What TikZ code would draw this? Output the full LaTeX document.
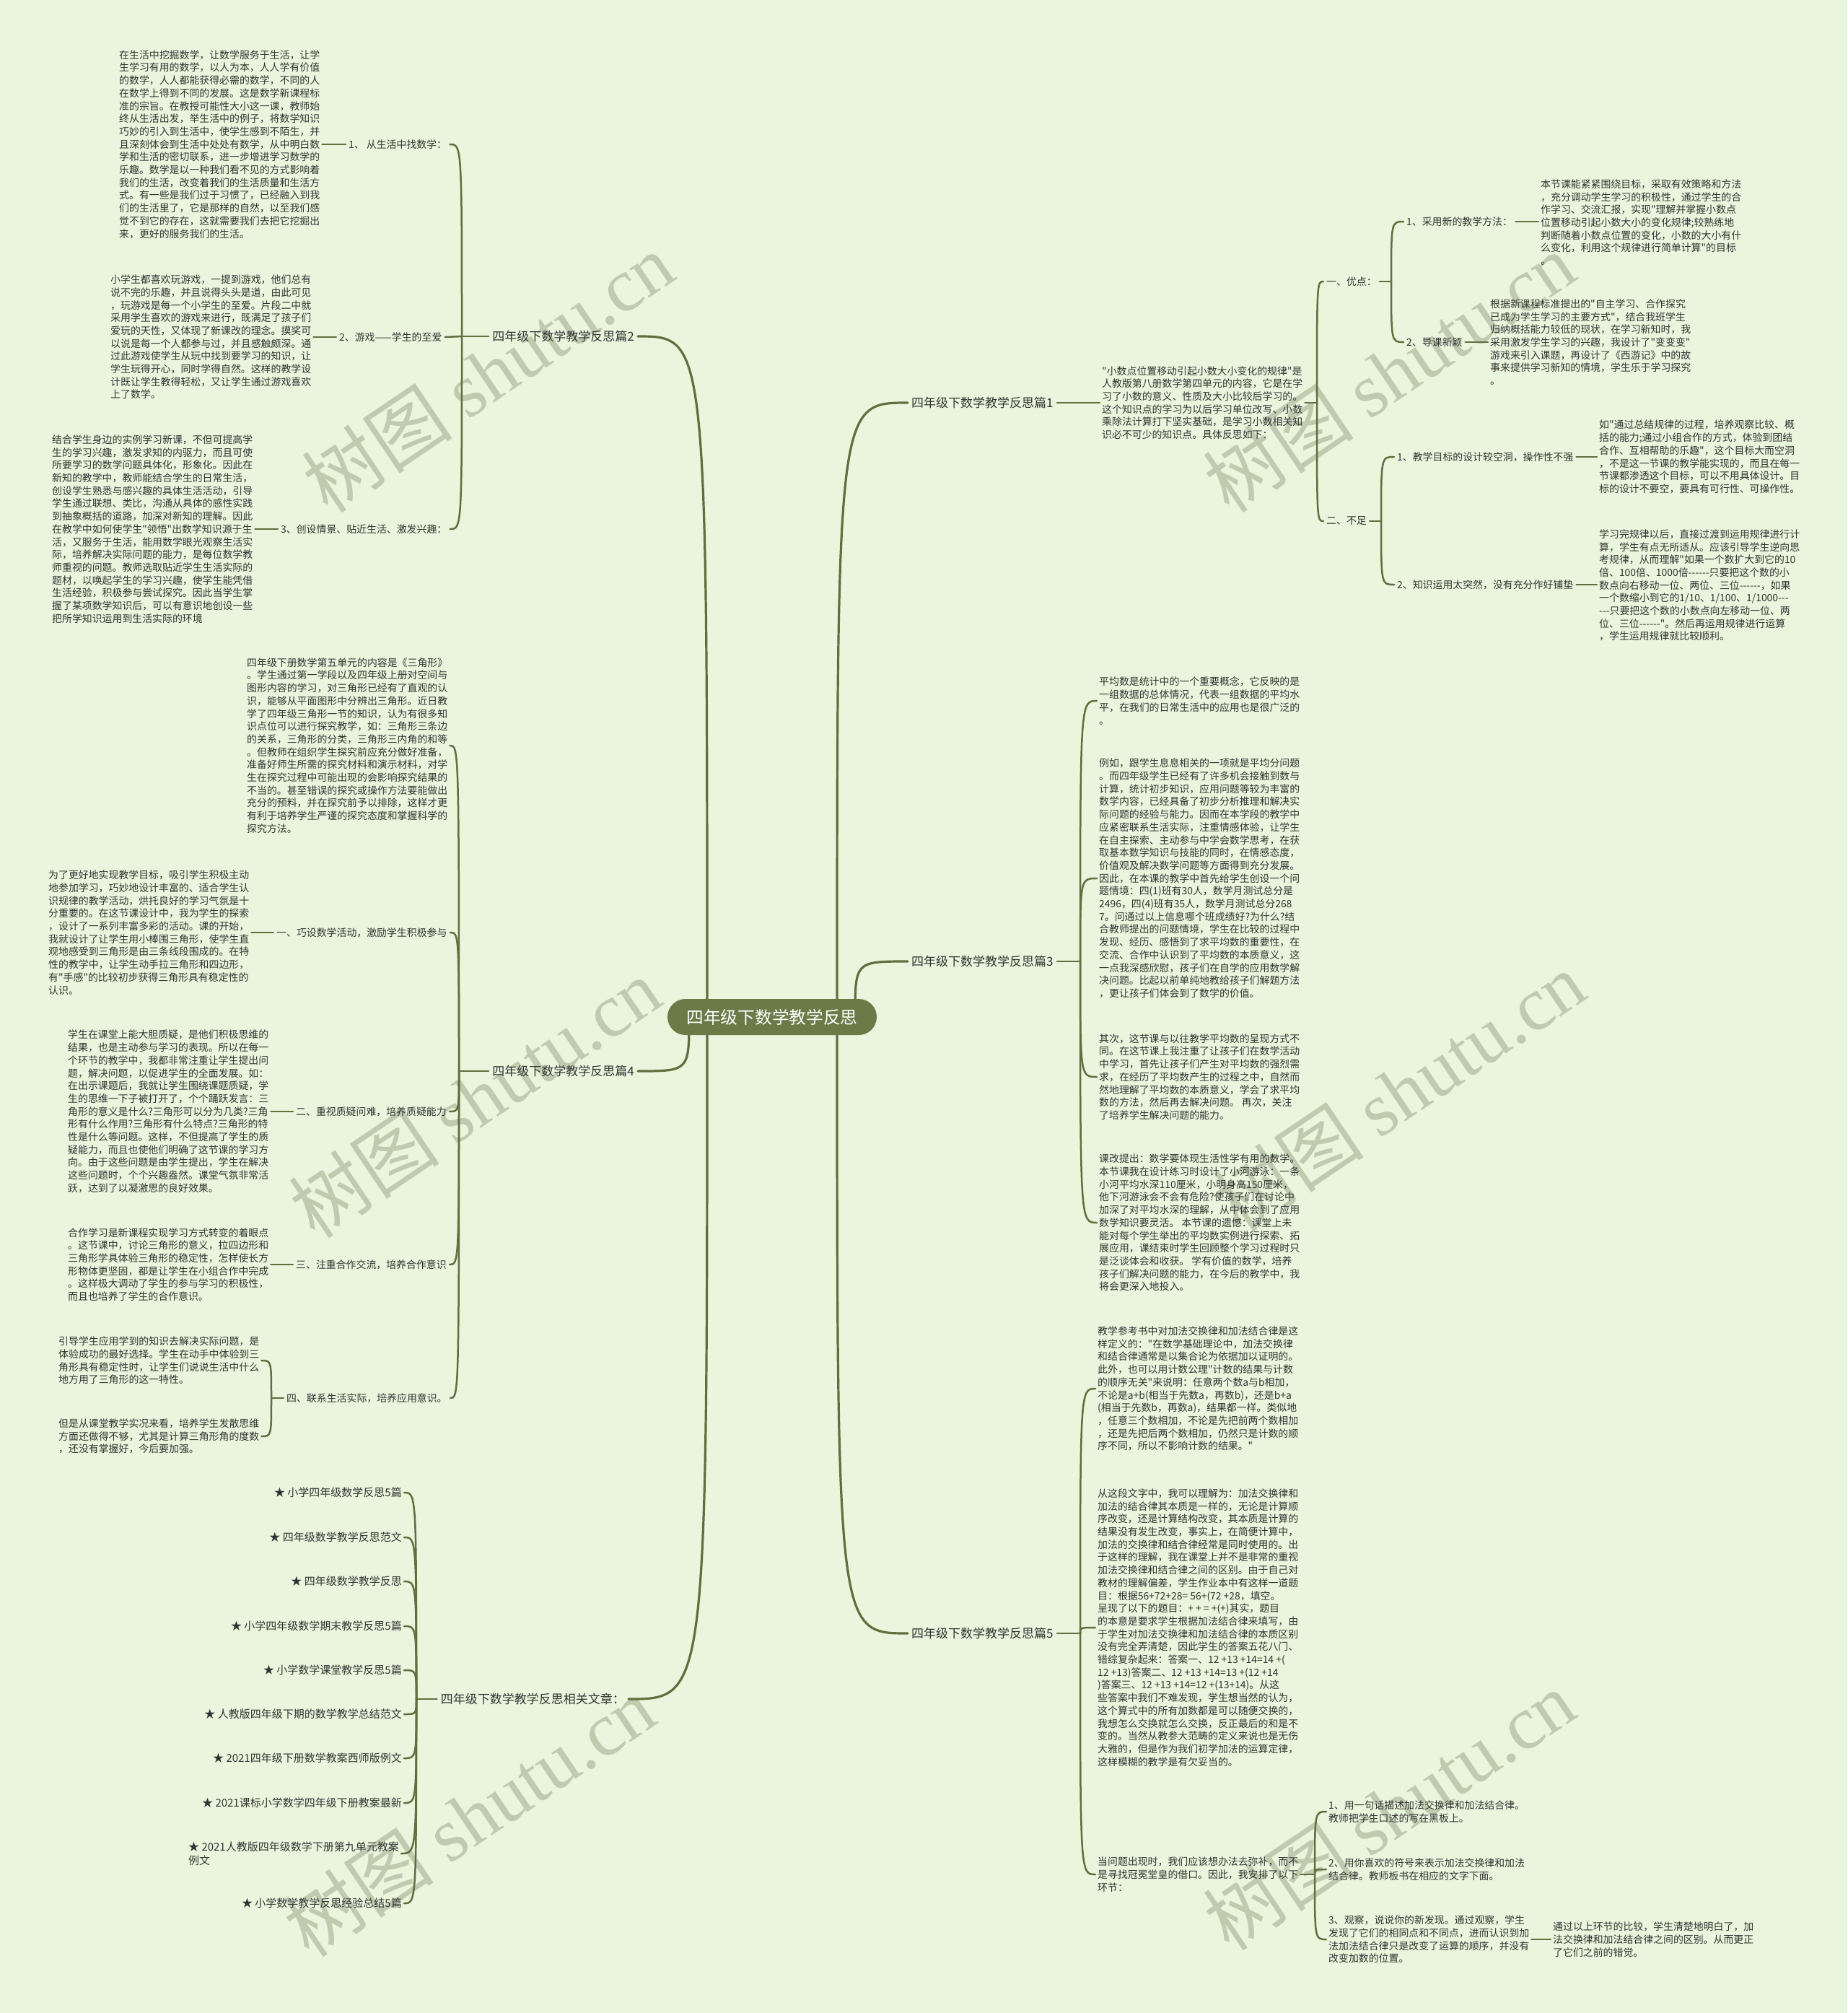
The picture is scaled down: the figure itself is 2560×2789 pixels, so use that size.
\documentclass[tikz,border=0pt]{standalone}
\usepackage{fontspec}
\newfontfamily\cjk{Noto Sans CJK SC}
\newfontfamily\wmlatin{Liberation Serif}
\usetikzlibrary{calc}
\definecolor{bgc}{HTML}{E9F5DC}
\definecolor{lnc}{HTML}{5F6F3E}
\definecolor{txc}{HTML}{333333}
\definecolor{cnc}{HTML}{6A7B48}
\definecolor{wmc}{HTML}{BFCAAF}
\tikzset{
  body/.style={font=\cjk\fontsize{13.9}{17.7}\selectfont, text=txc, align=left, anchor=west, inner sep=3pt},
  lab/.style={font=\cjk\fontsize{13.9}{17.7}\selectfont, text=txc, anchor=west, inner sep=4pt},
  mainlab/.style={font=\cjk\fontsize{17}{20}\selectfont, text=txc, inner sep=5pt},
  itemlab/.style={font=\cjk\fontsize{15}{18.5}\selectfont, text=txc, anchor=east, align=left, inner sep=3pt},
  conn/.style={draw=lnc, line width=2.5pt, line cap=round},
  mainconn/.style={draw=lnc, line width=3.2pt, line cap=round},
  wmark/.style={font=\cjk\fontsize{105}{105}\selectfont, text=wmc, rotate=34, inner sep=0pt},
}
\begin{document}
\begin{tikzpicture}[x=1pt,y=-1pt]
\fill[bgc] (0,0) rectangle (2560,2789);
\useasboundingbox (0,0) rectangle (2560,2789);

% watermarks
\node[wmark] (wm1) at (676,516) {树图 {\wmlatin shutu.cn}};
\node[wmark] (wm2) at (1925,516) {树图 {\wmlatin shutu.cn}};
\node[wmark] (wm3) at (658,1521) {树图 {\wmlatin shutu.cn}};
\node[wmark] (wm4) at (1939,1512) {树图 {\wmlatin shutu.cn}};
\node[wmark] (wm5) at (650,2517) {树图 {\wmlatin shutu.cn}};
\node[wmark] (wm6) at (1925,2508) {树图 {\wmlatin shutu.cn}};

% main labels
\node[mainlab, anchor=east] (P2) at (884,466) {四年级下数学教学反思篇2};
\node[mainlab, anchor=east] (P4) at (884,1484) {四年级下数学教学反思篇4};
\node[mainlab, anchor=east] (PR) at (871,2354) {四年级下数学教学反思相关文章：};
\node[mainlab, anchor=west] (P1) at (1258,558) {四年级下数学教学反思篇1};
\node[mainlab, anchor=west] (P3) at (1258,1332) {四年级下数学教学反思篇3};
\node[mainlab, anchor=west] (P5) at (1258,2263) {四年级下数学教学反思篇5};

% main connectors
\draw[mainconn] (1160,1409) .. controls (1160,558) .. (P1.west);
\draw[mainconn] (1185,1409) .. controls (1185,1332) .. (P3.west);
\draw[mainconn] (1160,1409) .. controls (1160,2263) .. (P5.west);
\draw[mainconn] (980,1409) .. controls (980,466) .. (P2.east);
\draw[mainconn] (955,1409) .. controls (955,1484) .. (P4.east);
\draw[mainconn] (980,1409) .. controls (980,2354) .. (PR.east);

% center
\node[fill=cnc, text=white, rounded corners=25pt, minimum width=290pt, minimum height=50pt,
      font=\cjk\fontsize{23.7}{26}\selectfont] (C) at (1070,1409) {四年级下数学教学反思};

% ===== Pian 2 =====
\node[body] (B1) at (162,200) {在生活中挖掘数学，让数学服务于生活，让学\\生学习有用的数学，以人为本，人人学有价值\\的数学，人人都能获得必需的数学，不同的人\\在数学上得到不同的发展。这是数学新课程标\\准的宗旨。在教授可能性大小这一课，教师始\\终从生活出发，举生活中的例子，将数学知识\\巧妙的引入到生活中，使学生感到不陌生，并\\且深刻体会到生活中处处有数学，从中明白数\\学和生活的密切联系，进一步增进学习数学的\\乐趣。数学是以一种我们看不见的方式影响着\\我们的生活，改变着我们的生活质量和生活方\\式。有一些是我们过于习惯了，已经融入到我\\们的生活里了，它是那样的自然，以至我们感\\觉不到它的存在，这就需要我们去把它挖掘出\\来，更好的服务我们的生活。};
\node[lab] (L1) at (479,200) {1、 从生活中找数学：};
\node[body] (B2) at (150,467) {小学生都喜欢玩游戏，一提到游戏，他们总有\\说不完的乐趣，并且说得头头是道，由此可见\\，玩游戏是每一个小学生的至爱。片段二中就\\采用学生喜欢的游戏来进行，既满足了孩子们\\爱玩的天性，又体现了新课改的理念。摸奖可\\以说是每一个人都参与过，并且感触颇深。通\\过此游戏使学生从玩中找到要学习的知识，让\\学生玩得开心，同时学得自然。这样的教学设\\计既让学生教得轻松，又让学生通过游戏喜欢\\上了数学。};
\node[lab] (L2) at (466,467) {2、游戏——学生的至爱};
\node[body] (B3) at (69,733) {结合学生身边的实例学习新课，不但可提高学\\生的学习兴趣，激发求知的内驱力，而且可使\\所要学习的数学问题具体化，形象化。因此在\\新知的教学中，教师能结合学生的日常生活，\\创设学生熟悉与感兴趣的具体生活活动，引导\\学生通过联想、类比，沟通从具体的感性实践\\到抽象概括的道路，加深对新知的理解。因此\\在教学中如何使学生"领悟"出数学知识源于生\\活，又服务于生活，能用数学眼光观察生活实\\际，培养解决实际问题的能力，是每位数学教\\师重视的问题。教师选取贴近学生生活实际的\\题材，以唤起学生的学习兴趣，使学生能凭借\\生活经验，积极参与尝试探究。因此当学生掌\\握了某项数学知识后，可以有意识地创设一些\\把所学知识运用到生活实际的环境};
\node[lab] (L3) at (385,733) {3、创设情景、贴近生活、激发兴趣：};
\coordinate (J2) at (640,466);
\draw[conn] (B1.east) -- (L1.west);
\draw[conn] (B2.east) -- (L2.west);
\draw[conn] (B3.east) -- (L3.west);
\draw[conn] (P2.west) -- (J2);
\draw[conn] (J2) .. controls (J2 |- L1.east) .. (L1.east);
\draw[conn] (J2) -- (L2.east);
\draw[conn] (J2) .. controls (J2 |- L3.east) .. (L3.east);

% ===== Pian 4 =====
\node[body] (B4) at (339,1033) {四年级下册数学第五单元的内容是《三角形》\\。学生通过第一学段以及四年级上册对空间与\\图形内容的学习，对三角形已经有了直观的认\\识，能够从平面图形中分辨出三角形。近日教\\学了四年级三角形一节的知识，认为有很多知\\识点位可以进行探究教学，如：三角形三条边\\的关系，三角形的分类，三角形三内角的和等\\。但教师在组织学生探究前应充分做好准备，\\准备好师生所需的探究材料和演示材料，对学\\生在探究过程中可能出现的会影响探究结果的\\不当的。甚至错误的探究或操作方法要能做出\\充分的预料，并在探究前予以排除，这样才更\\有利于培养学生严谨的探究态度和掌握科学的\\探究方法。};
\node[body] (B5) at (64,1292) {为了更好地实现教学目标，吸引学生积极主动\\地参加学习，巧妙地设计丰富的、适合学生认\\识规律的教学活动，烘托良好的学习气氛是十\\分重要的。在这节课设计中，我为学生的探索\\，设计了一系列丰富多彩的活动。课的开始，\\我就设计了让学生用小棒围三角形，使学生直\\观地感受到三角形是由三条线段围成的。在特\\性的教学中，让学生动手拉三角形和四边形，\\有"手感"的比较初步获得三角形具有稳定性的\\认识。};
\node[lab] (L5) at (379,1292) {一、巧设数学活动，激励学生积极参与};
\node[body] (B6) at (91,1540) {学生在课堂上能大胆质疑，是他们积极思维的\\结果，也是主动参与学习的表现。所以在每一\\个环节的教学中，我都非常注重让学生提出问\\题，解决问题，以促进学生的全面发展。如：\\在出示课题后，我就让学生围绕课题质疑，学\\生的思维一下子被打开了，个个踊跃发言：三\\角形的意义是什么?三角形可以分为几类?三角\\形有什么作用?三角形有什么特点?三角形的特\\性是什么等问题。这样，不但提高了学生的质\\疑能力，而且也使他们明确了这节课的学习方\\向。由于这些问题是由学生提出，学生在解决\\这些问题时，个个兴趣盎然。课堂气氛非常活\\跃，达到了以凝激思的良好效果。};
\node[lab] (L6) at (406,1540) {二、重视质疑问难，培养质疑能力};
\node[body] (B7) at (91,1752) {合作学习是新课程实现学习方式转变的着眼点\\。这节课中，讨论三角形的意义，拉四边形和\\三角形学具体验三角形的稳定性，怎样使长方\\形物体更坚固，都是让学生在小组合作中完成\\。这样极大调动了学生的参与学习的积极性，\\而且也培养了学生的合作意识。};
\node[lab] (L7) at (406,1752) {三、注重合作交流，培养合作意识};
\node[body] (B7a) at (78,1885) {引导学生应用学到的知识去解决实际问题，是\\体验成功的最好选择。学生在动手中体验到三\\角形具有稳定性时，让学生们说说生活中什么\\地方用了三角形的这一特性。};
\node[body] (B7b) at (78,1990) {但是从课堂教学实况来看，培养学生发散思维\\方面还做得不够，尤其是计算三角形角的度数\\，还没有掌握好，今后要加强。};
\node[lab] (L8) at (393,1937) {四、联系生活实际，培养应用意识。};
\coordinate (J8) at (376,1937);
\coordinate (J4) at (636,1484);
\draw[conn] (B5.east) -- (L5.west);
\draw[conn] (B6.east) -- (L6.west);
\draw[conn] (B7.east) -- (L7.west);
\draw[conn] (J8) -- (L8.west);
\draw[conn] (J8) .. controls (J8 |- B7a.east) .. (B7a.east);
\draw[conn] (J8) .. controls (J8 |- B7b.east) .. (B7b.east);
\draw[conn] (P4.west) -- (J4);
\draw[conn] (J4) .. controls (J4 |- B4.east) .. (B4.east);
\draw[conn] (J4) .. controls (J4 |- L5.east) .. (L5.east);
\draw[conn] (J4) .. controls (J4 |- L6.east) .. (L6.east);
\draw[conn] (J4) .. controls (J4 |- L7.east) .. (L7.east);
\draw[conn] (J4) .. controls (J4 |- L8.east) .. (L8.east);

% ===== related =====
\node[itemlab] (R1) at (560,2068) {★ 小学四年级数学反思5篇};
\node[itemlab] (R2) at (560,2130) {★ 四年级数学教学反思范文};
\node[itemlab] (R3) at (560,2191) {★ 四年级数学教学反思};
\node[itemlab] (R4) at (560,2253) {★ 小学四年级数学期末教学反思5篇};
\node[itemlab] (R5) at (560,2314) {★ 小学数学课堂教学反思5篇};
\node[itemlab] (R6) at (560,2375) {★ 人教版四年级下期的数学教学总结范文};
\node[itemlab] (R7) at (560,2436) {★ 2021四年级下册数学教案西师版例文};
\node[itemlab] (R8) at (560,2498) {★ 2021课标小学数学四年级下册教案最新};
\node[itemlab] (R9) at (556,2568) {★ 2021人教版四年级数学下册第九单元教案\\例文};
\node[itemlab] (R10) at (560,2637) {★ 小学数学教学反思经验总结5篇};
\coordinate (JR) at (577,2354);
\draw[conn] (PR.west) -- (JR);
\foreach \r in {R1,R2,R3,R4,R5,R6,R7,R8,R9,R10} {
  \draw[conn] (JR) .. controls (JR |- \r.east) .. (\r.east);
}

% ===== Pian 1 =====
\node[body] (B11) at (1524,558) {"小数点位置移动引起小数大小变化的规律"是\\人教版第八册数学第四单元的内容，它是在学\\习了小数的意义、性质及大小比较后学习的。\\这个知识点的学习为以后学习单位改写、小数\\乘除法计算打下坚实基础，是学习小数相关知\\识必不可少的知识点。具体反思如下：};
\draw[conn] (P1.east) -- (B11.west);
\coordinate (J1) at (1825,558);
\draw[conn] (B11.east) -- (J1);
\node[lab] (LY) at (1834,390) {一、优点：};
\node[lab] (LB) at (1834,722) {二、不足};
\draw[conn] (J1) .. controls (J1 |- LY.west) .. (LY.west);
\draw[conn] (J1) .. controls (J1 |- LB.west) .. (LB.west);
% youdian
\coordinate (J11) at (1928,390);
\draw[conn] (LY.east) -- (J11);
\node[lab] (L9a) at (1945,307) {1、采用新的教学方法：};
\node[lab] (L9b) at (1945,474) {2、导课新颖};
\draw[conn] (J11) .. controls (J11 |- L9a.west) .. (L9a.west);
\draw[conn] (J11) .. controls (J11 |- L9b.west) .. (L9b.west);
\node[body] (B9a) at (2132,308) {本节课能紧紧围绕目标，采取有效策略和方法\\，充分调动学生学习的积极性，通过学生的合\\作学习、交流汇报，实现"理解并掌握小数点\\位置移动引起小数大小的变化规律;较熟练地\\判断随着小数点位置的变化，小数的大小有什\\么变化，利用这个规律进行简单计算"的目标\\。};
\node[body] (B9b) at (2062,474) {根据新课程标准提出的"自主学习、合作探究\\已成为学生学习的主要方式"，结合我班学生\\归纳概括能力较低的现状，在学习新知时，我\\采用激发学生学习的兴趣，我设计了"变变变"\\游戏来引入课题，再设计了《西游记》中的故\\事来提供学习新知的情境，学生乐于学习探究\\。};
\draw[conn] (L9a.east) -- (B9a.west |- L9a.east);
\draw[conn] (L9b.east) -- (B9b.west |- L9b.east);
% buzu
\coordinate (J12) at (1914,722);
\draw[conn] (LB.east) -- (J12);
\node[lab] (L10a) at (1932,633) {1、教学目标的设计较空洞，操作性不强};
\node[lab] (L10b) at (1932,810) {2、知识运用太突然，没有充分作好铺垫};
\draw[conn] (J12) .. controls (J12 |- L10a.west) .. (L10a.west);
\draw[conn] (J12) .. controls (J12 |- L10b.west) .. (L10b.west);
\node[body] (B10a) at (2213,633) {如"通过总结规律的过程，培养观察比较、概\\括的能力;通过小组合作的方式，体验到团结\\合作、互相帮助的乐趣"，这个目标大而空洞\\，不是这一节课的教学能实现的，而且在每一\\节课都渗透这个目标，可以不用具体设计。目\\标的设计不要空，要具有可行性、可操作性。};
\node[body] (B10b) at (2213,811) {学习完规律以后，直接过渡到运用规律进行计\\算，学生有点无所适从。应该引导学生逆向思\\考规律，从而理解"如果一个数扩大到它的10\\倍、100倍、1000倍------只要把这个数的小\\数点向右移动一位、两位、三位------，如果\\一个数缩小到它的1/10、1/100、1/1000---\\---只要把这个数的小数点向左移动一位、两\\位、三位------"。然后再运用规律进行运算\\，学生运用规律就比较顺利。};
\draw[conn] (L10a.east) -- (B10a.west);
\draw[conn] (L10b.east) -- (B10b.west |- L10b.east);

% ===== Pian 3 =====
\coordinate (J3) at (1497,1332);
\draw[conn] (P3.east) -- (J3);
\node[body] (B3a) at (1520,971) {平均数是统计中的一个重要概念，它反映的是\\一组数据的总体情况，代表一组数据的平均水\\平，在我们的日常生活中的应用也是很广泛的\\。};
\node[body] (B3b) at (1520,1217) {例如，跟学生息息相关的一项就是平均分问题\\。而四年级学生已经有了许多机会接触到数与\\计算，统计初步知识，应用问题等较为丰富的\\数学内容，已经具备了初步分析推理和解决实\\际问题的经验与能力。因而在本学段的教学中\\应紧密联系生活实际，注重情感体验，让学生\\在自主探索、主动参与中学会数学思考，在获\\取基本数学知识与技能的同时，在情感态度，\\价值观及解决数学问题等方面得到充分发展。\\因此，在本课的教学中首先给学生创设一个问\\题情境：四(1)班有30人，数学月测试总分是\\2496，四(4)班有35人，数学月测试总分268\\7。问通过以上信息哪个班成绩好?为什么?结\\合教师提出的问题情境，学生在比较的过程中\\发现、经历、感悟到了求平均数的重要性，在\\交流、合作中认识到了平均数的本质意义，这\\一点我深感欣慰，孩子们在自学的应用数学解\\决问题。比起以前单纯地教给孩子们解题方法\\，更让孩子们体会到了数学的价值。};
\node[body] (B3c) at (1520,1492) {其次，这节课与以往教学平均数的呈现方式不\\同。在这节课上我注重了让孩子们在数学活动\\中学习，首先让孩子们产生对平均数的强烈需\\求，在经历了平均数产生的过程之中，自然而\\然地理解了平均数的本质意义，学会了求平均\\数的方法，然后再去解决问题。 再次，关注\\了培养学生解决问题的能力。};
\node[body] (B3d) at (1520,1694) {课改提出：数学要体现生活性学有用的数学。\\本节课我在设计练习时设计了小河游泳：一条\\小河平均水深110厘米，小明身高150厘米，\\他下河游泳会不会有危险?使孩子们在讨论中\\加深了对平均水深的理解，从中体会到了应用\\数学知识要灵活。 本节课的遗憾：课堂上未\\能对每个学生举出的平均数实例进行探索、拓\\展应用，课结束时学生回顾整个学习过程时只\\是泛谈体会和收获。 学有价值的数学，培养\\孩子们解决问题的能力，在今后的教学中，我\\将会更深入地投入。};
\foreach \b in {B3a,B3b,B3c,B3d} {
  \draw[conn] (J3) .. controls (J3 |- \b.west) .. (\b.west);
}

% ===== Pian 5 =====
\coordinate (J5) at (1497,2263);
\draw[conn] (P5.east) -- (J5);
\node[body] (B5a) at (1518,1924) {教学参考书中对加法交换律和加法结合律是这\\样定义的："在数学基础理论中，加法交换律\\和结合律通常是以集合论为依据加以证明的。\\此外，也可以用计数公理"计数的结果与计数\\的顺序无关"来说明：任意两个数a与b相加，\\不论是a+b(相当于先数a，再数b)，还是b+a\\(相当于先数b，再数a)，结果都一样。类似地\\，任意三个数相加，不论是先把前两个数相加\\，还是先把后两个数相加，仍然只是计数的顺\\序不同，所以不影响计数的结果。"};
\node[body] (B5b) at (1518,2255) {从这段文字中，我可以理解为：加法交换律和\\加法的结合律其本质是一样的，无论是计算顺\\序改变，还是计算结构改变，其本质是计算的\\结果没有发生改变，事实上，在简便计算中，\\加法的交换律和结合律经常是同时使用的。出\\于这样的理解，我在课堂上并不是非常的重视\\加法交换律和结合律之间的区别。由于自己对\\教材的理解偏差，学生作业本中有这样一道题\\目：根据56+72+28= 56+(72 +28，填空。\\呈现了以下的题目：+ + = +(+)其实，题目\\的本意是要求学生根据加法结合律来填写，由\\于学生对加法交换律和加法结合律的本质区别\\没有完全弄清楚，因此学生的答案五花八门、\\错综复杂起来：答案一、12 +13 +14=14 +(\\12 +13)答案二、12 +13 +14=13 +(12 +14\\)答案三、12 +13 +14=12 +(13+14)。从这\\些答案中我们不难发现，学生想当然的认为，\\这个算式中的所有加数都是可以随便交换的，\\我想怎么交换就怎么交换，反正最后的和是不\\变的。当然从教参大范畴的定义来说也是无伤\\大雅的，但是作为我们初学加法的运算定律，\\这样模糊的教学是有欠妥当的。};
\node[body] (B5c) at (1518,2597) {当问题出现时，我们应该想办法去弥补，而不\\是寻找冠冕堂皇的借口。因此，我安排了以下\\环节：};
\foreach \b in {B5a,B5b,B5c} {
  \draw[conn] (J5) .. controls (J5 |- \b.west) .. (\b.west);
}
\coordinate (J5c) at (1822,2597);
\draw[conn] (B5c.east) -- (J5c);
\node[body] (B5c1) at (1838,2510) {1、用一句话描述加法交换律和加法结合律。\\教师把学生口述的写在黑板上。};
\node[body] (B5c2) at (1838,2590) {2、用你喜欢的符号来表示加法交换律和加法\\结合律。教师板书在相应的文字下面。};
\node[body] (B5c3) at (1838,2687) {3、观察，说说你的新发现。通过观察，学生\\发现了它们的相同点和不同点，进而认识到加\\法加法结合律只是改变了运算的顺序，并没有\\改变加数的位置。};
\foreach \b in {B5c1,B5c2,B5c3} {
  \draw[conn] (J5c) .. controls (J5c |- \b.west) .. (\b.west);
}
\node[body] (B5c3a) at (2149,2687) {通过以上环节的比较，学生清楚地明白了，加\\法交换律和加法结合律之间的区别。从而更正\\了它们之前的错觉。};
\draw[conn] (B5c3.east) -- (B5c3a.west);
\end{tikzpicture}
\end{document}
